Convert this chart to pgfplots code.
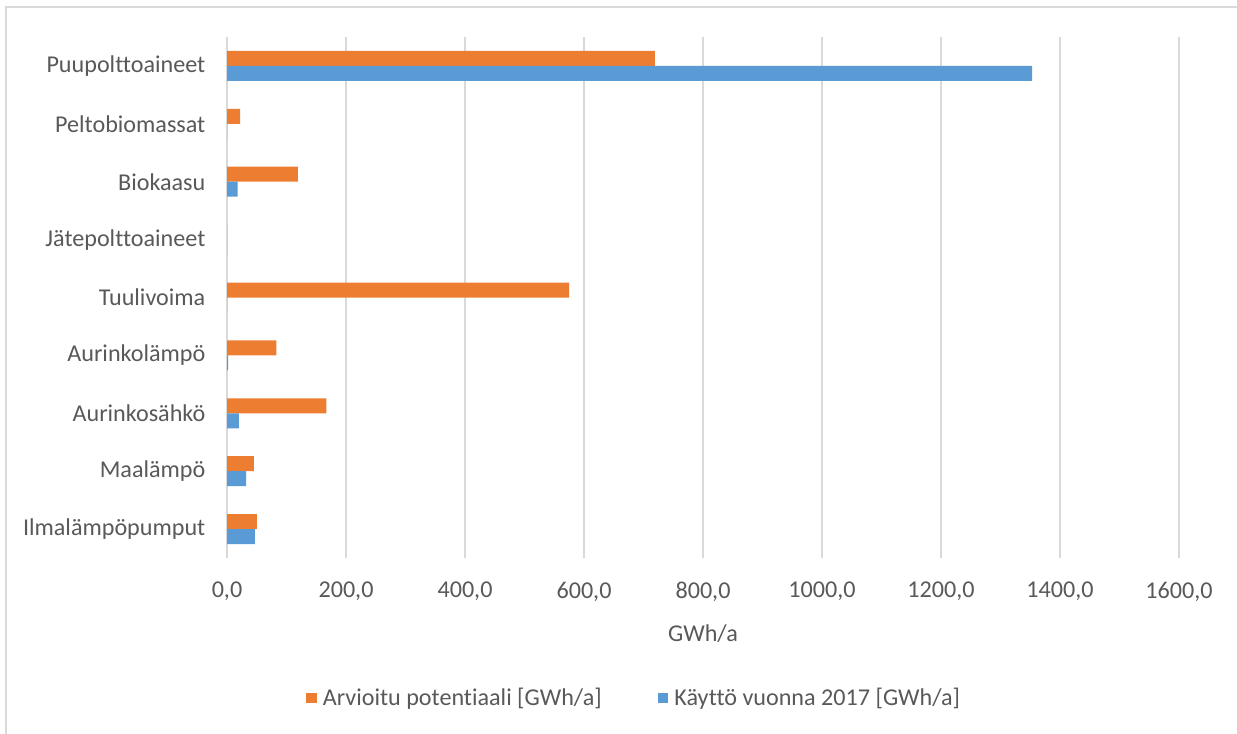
\documentclass[border=0pt]{standalone}
\usepackage{pgfplots}
\pgfplotsset{compat=1.18}
\usepackage{fontspec}
\setmainfont[Ligatures=NoCommon]{Carlito}
\definecolor{cOrange}{HTML}{ED7D31}
\definecolor{cBlue}{HTML}{5B9BD5}
\definecolor{cText}{HTML}{595959}
\definecolor{cGrid}{HTML}{D9D9D9}
\newcommand{\cf}{\fontsize{18.1}{21}\selectfont}
\begin{document}
\cf
\begin{tikzpicture}[x=0.75pt,y=0.75pt]
\useasboundingbox (0,0) rectangle (1237,733);
\fill[white] (0,0) rectangle (1237,733);
\draw[cGrid,line width=1.5pt] (6,-10) -- (6,726) -- (1250,726);
\begin{axis}[
  at={(170.25pt,131.25pt)}, anchor=south west,
  scale only axis,
  width=714pt, height=390.75pt,
  xmin=0, xmax=1600,
  ymin=-0.5, ymax=8.5,
  xtick={0,200,...,1600},
  ytick={0,...,8},
  yticklabels={Ilmalämpöpumput,Maalämpö,Aurinkosähkö,Aurinkolämpö,Tuulivoima,Jätepolttoaineet,Biokaasu,Peltobiomassat,Puupolttoaineet},
  xmajorgrids,
  major grid style={cGrid,line width=1.1pt},
  axis line style={draw=none},
  major tick length=0pt,
  tick label style={text=cText,font=\cf},
  /pgf/number format/assume math mode=true,
  x tick label style={/pgf/number format/fixed,/pgf/number format/fixed zerofill,/pgf/number format/precision=1,/pgf/number format/use comma,/pgf/number format/1000 sep={},yshift=-12pt},
  yticklabel style={xshift=-10pt},
  xlabel={GWh/a},
  xlabel style={text=cText,font=\cf,yshift=-5pt},
  xbar, bar width=11.25pt,
  legend style={at={(axis description cs:0.428,-0.269)},anchor=center,draw=none,fill=none,
    legend columns=2,text=cText,font=\cf,
    /tikz/every even column/.append style={column sep=40pt}},
  legend image code/.code={\fill[#1] (0pt,-4pt) rectangle (8pt,4pt); \path (10.5pt,0pt);},
]
\addplot+[draw=none,fill=cOrange,bar shift=5.625pt] coordinates {
(50,0) (45,1) (167,2) (83,3) (575,4) (0,5) (119,6) (22,7) (719,8)};
\addlegendentry{Arvioitu potentiaali [GWh/a]}
\addplot+[draw=none,fill=cBlue,bar shift=-5.625pt] coordinates {
(47,0) (32,1) (20,2) (2,3) (0,4) (0,5) (18,6) (0,7) (1353,8)};
\addlegendentry{Käyttö vuonna 2017 [GWh/a]}
\end{axis}
\end{tikzpicture}
\end{document}
